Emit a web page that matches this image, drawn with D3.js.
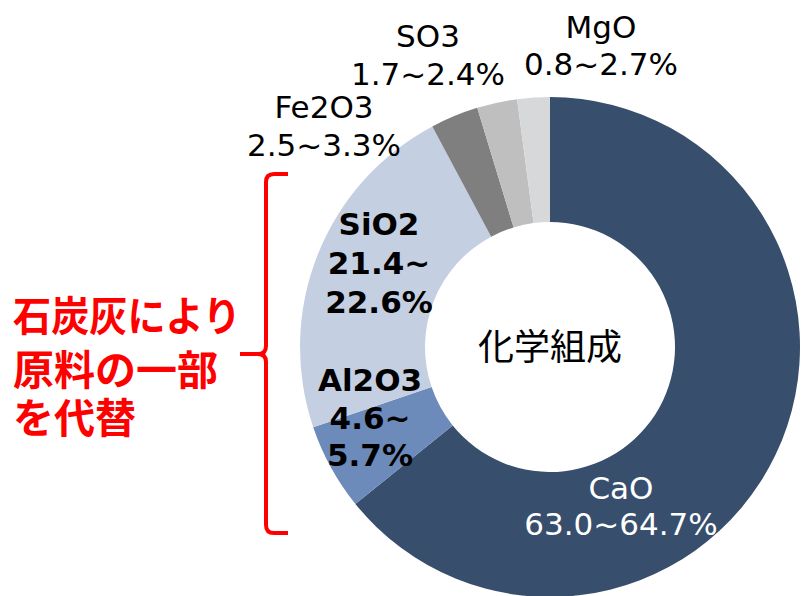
<!DOCTYPE html>
<html>
<head>
<meta charset="utf-8">
<script src="https://cdn.jsdelivr.net/npm/d3@7"></script>
<style>
html,body{margin:0;padding:0;background:#fff;}
svg{display:block;}
</style>
</head>
<body>
<svg id="chart" width="802" height="596"></svg>
<script>
const categories = ["CaO", "Al2O3", "SiO2", "Fe2O3", "SO3", "MgO"];
const values = [64.2, 5.6, 22.4, 3.1, 2.6, 2.1];
const rangeLabels = ["63.0~64.7%", "4.6~5.7%", "21.4~22.6%", "2.5~3.3%", "1.7~2.4%", "0.8~2.7%"];
const colors = ["#384e6d", "#6c8bbb", "#c5cfe2", "#7f7f7f", "#bfbfbf", "#d7d8da"];
const centerTitle = "化学組成";
const noteLines = ["石炭灰により", "原料の一部", "を代替"];

const svg = d3.select("#chart");
const cx = 550, cy = 347, R = 250, r = 125;

const pie = d3.pie().sort(null).value(d => d.v);
const data = categories.map((c, i) => ({c, v: values[i], color: colors[i], label: rangeLabels[i]}));
const arcs = pie(data);
const arc = d3.arc().innerRadius(r).outerRadius(R);

const g = svg.append("g").attr("transform", `translate(${cx},${cy})`);
g.selectAll("path").data(arcs).join("path")
  .attr("d", arc)
  .attr("fill", d => d.data.color);

g.append("text")
  .attr("x", 0).attr("y", 13)
  .attr("text-anchor", "middle")
  .attr("font-family", "'Noto Sans CJK JP', sans-serif")
  .attr("font-size", 36)
  .attr("fill", "#000")
  .text(centerTitle);

const labelSpec = {
  "CaO":   {x: 71,  y: 152, bold: false, fill: "#fff", lines: ["CaO", rangeLabels[0]], lh: 36},
  "Al2O3": {x: -180, y: 44, bold: true, fill: "#000", lines: ["Al2O3", "4.6~", "5.7%"], lh: 37.5},
  "SiO2":  {x: -171, y: -112, bold: true, fill: "#000", lines: ["SiO2", "21.4~", "22.6%"], lh: 39},
  "Fe2O3": {x: -226, y: -229, bold: false, fill: "#000", lines: ["Fe2O3", rangeLabels[3]], lh: 38},
  "SO3":   {x: -122, y: -300, bold: false, fill: "#000", lines: ["SO3", rangeLabels[4]], lh: 38},
  "MgO":   {x: 51,  y: -309, bold: false, fill: "#000", lines: ["MgO", rangeLabels[5]], lh: 37}
};

arcs.forEach(a => {
  const s = labelSpec[a.data.c];
  const t = g.append("text")
    .attr("text-anchor", "middle")
    .attr("font-family", "'DejaVu Sans', Verdana, sans-serif")
    .attr("font-size", 31)
    .attr("font-weight", s.bold ? "bold" : "normal")
    .attr("fill", s.fill);
  s.lines.forEach((ln, i) => {
    t.append("tspan").attr("x", s.x).attr("y", s.y + i * s.lh).text(ln);
  });
});

const noteY = [331, 385, 433];
noteLines.forEach((ln, i) => {
  const t = svg.append("text")
    .attr("x", 13).attr("y", noteY[i])
    .attr("font-family", "'Noto Sans CJK JP', sans-serif")
    .attr("font-size", 41)
    .attr("font-weight", "bold")
    .attr("fill", "#ff0000")
    .text(ln);
  if (i === 0) t.attr("textLength", 228).attr("lengthAdjust", "spacingAndGlyphs");
});

const bx = 266, bTop = 174, bBot = 533, bMid = 354, tipX = 240, endX = 288;
const p = d3.path();
p.moveTo(endX, bTop);
p.lineTo(bx + 8, bTop);
p.quadraticCurveTo(bx, bTop, bx, bTop + 8);
p.lineTo(bx, bMid - 8);
p.quadraticCurveTo(bx, bMid, bx - 8, bMid);
p.lineTo(tipX, bMid);
p.moveTo(bx - 8, bMid);
p.quadraticCurveTo(bx, bMid, bx, bMid + 8);
p.lineTo(bx, bBot - 8);
p.quadraticCurveTo(bx, bBot, bx + 8, bBot);
p.lineTo(endX, bBot);
svg.append("path")
  .attr("d", p.toString())
  .attr("fill", "none")
  .attr("stroke", "#ff0000")
  .attr("stroke-width", 4)
  .attr("stroke-linecap", "butt")
  .attr("stroke-linejoin", "round");
</script>
</body>
</html>
